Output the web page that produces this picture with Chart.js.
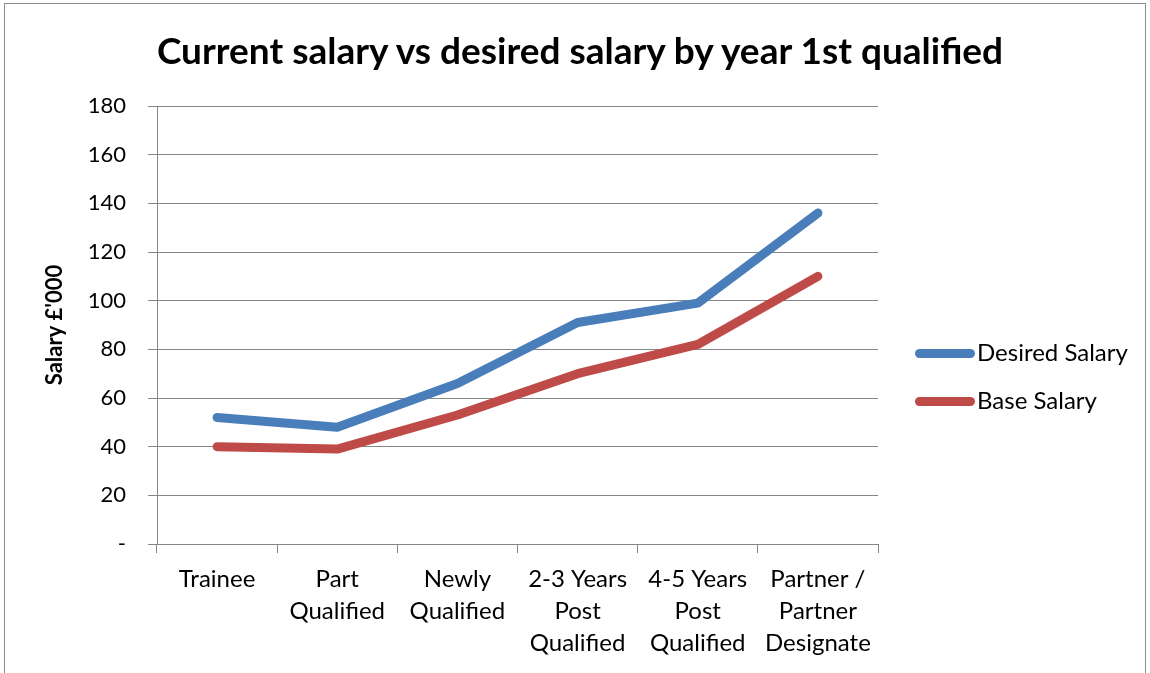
<!DOCTYPE html>
<html>
<head>
<meta charset="utf-8">
<script src="https://cdn.jsdelivr.net/npm/chart.js@4"></script>
<style>
  html, body { margin: 0; padding: 0; background: #fff; }
  #wrap { position: relative; width: 1150px; height: 673px; overflow: hidden; }
  #frame { position: absolute; left: 4px; top: 3px; width: 1142px; height: 700px; border: 1px solid #8c8c8c; box-sizing: border-box; }
  canvas { position: absolute; left: 0; top: 0; }
  #title { position: absolute; left: 0; width: 1160px; top: 27px; text-align: center; font: bold 37px Lato, sans-serif; color: #000; white-space: nowrap; }
  .legend { position: absolute; left: 915px; font: 24px Lato, sans-serif; color: #000; line-height: 30px; }
  .legend span { display: inline-block; width: 60px; height: 9px; border-radius: 5px; vertical-align: middle; margin-right: 2px; position: relative; top: -1px; }
</style>
</head>
<body>
<div id="wrap">
  <div id="frame"></div>
  <canvas id="salaryChart" width="1150" height="673"></canvas>
  <div id="title">Current salary vs desired salary by year 1st qualified</div>
  <div class="legend" style="top:337px"><span style="background:#4a7ebb"></span>Desired Salary</div>
  <div class="legend" style="top:385px"><span style="background:#be4b48"></span>Base Salary</div>
</div>
<script>
// Salary (£'000) by stage of qualification
const stages = ['Trainee', ['Part', 'Qualified'], ['Newly', 'Qualified'], ['2-3 Years', 'Post', 'Qualified'], ['4-5 Years', 'Post', 'Qualified'], ['Partner /', 'Partner', 'Designate']];
const desiredSalary = [52, 48, 66, 91, 99, 136];
const baseSalary = [40, 39, 53, 70, 82, 110];

Chart.defaults.font.family = "Lato, sans-serif";
Chart.defaults.color = '#000';

const gridGrey = '#868686';

new Chart(document.getElementById('salaryChart'), {
    type: 'line',
    data: {
        labels: stages,
        datasets: [{
            label: 'Desired Salary',
            data: desiredSalary,
            borderColor: '#4a7ebb',
            borderWidth: 9,
            borderCapStyle: 'round',
            borderJoinStyle: 'round',
            pointRadius: 0,
            tension: 0
        }, {
            label: 'Base Salary',
            data: baseSalary,
            borderColor: '#be4b48',
            borderWidth: 9,
            borderCapStyle: 'round',
            borderJoinStyle: 'round',
            pointRadius: 0,
            tension: 0
        }]
    },
    options: {
        responsive: false,
        animation: false,
        layout: { padding: { left: 42, right: 272, top: 106, bottom: 0 } },
        plugins: {
            legend: { display: false },
            tooltip: { enabled: false }
        },
        scales: {
            x: {
                offset: true,
                border: { color: gridGrey, width: 1 },
                grid: { offset: true, drawOnChartArea: false, drawTicks: true, tickLength: 9, color: gridGrey },
                ticks: { font: { size: 24, lineHeight: 1.33 }, maxRotation: 0, autoSkip: false, padding: 10 },
                afterFit: scale => { scale.height = 129; }
            },
            y: {
                min: 0,
                max: 180,
                border: { color: gridGrey, width: 1 },
                grid: { color: gridGrey, tickLength: 9 },
                ticks: {
                    stepSize: 20,
                    font: { size: 22 },
                    padding: 22,
                    callback: v => v === 0 ? '-' : v
                },
                title: {
                    display: true,
                    text: "Salary £'000",
                    font: { size: 22, weight: 'bold' },
                    padding: 0
                },
                afterFit: scale => { scale.width = 115; }
            }
        }
    }
});
</script>
</body>
</html>
